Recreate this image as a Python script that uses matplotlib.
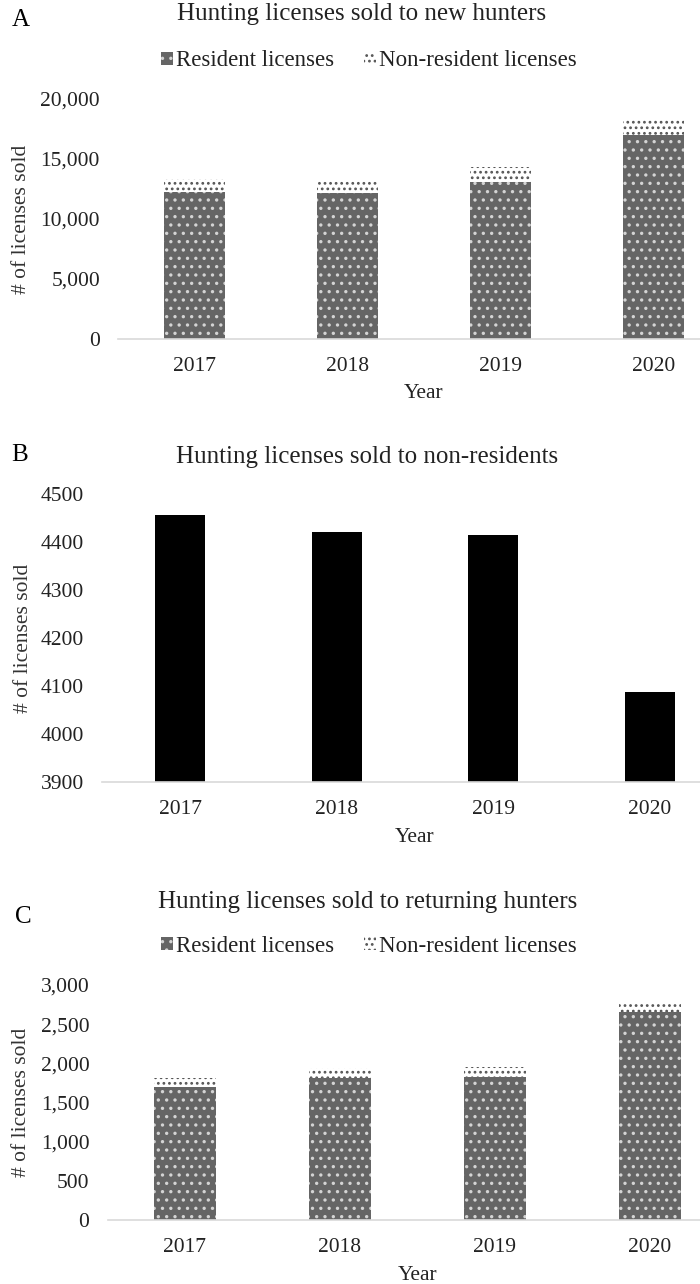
import numpy as np
import matplotlib
matplotlib.use("Agg")
from matplotlib import pyplot as plt
from matplotlib.patches import Patch
from matplotlib.ticker import FuncFormatter
from matplotlib.transforms import blended_transform_factory

plt.rcParams['font.family'] = ['Liberation Serif', 'DejaVu Serif']
plt.rcParams['hatch.linewidth'] = 1.2

years = ["2017", "2018", "2019", "2020"]

# panel A - new hunters
new_resident = [12250, 12200, 13100, 17000]
new_nonresident = [1050, 1000, 1250, 1300]

# panel B - non-residents
nonres_total = [4457, 4420, 4414, 4087]

# panel C - returning hunters
ret_resident = [1695, 1815, 1822, 2657]
ret_nonresident = [120, 126, 127, 127]

W, H = 700, 1284
fig = plt.figure(figsize=(W / 100, H / 100), dpi=100)

RES_STYLE = dict(facecolor='#656565', edgecolor='#d4d4d4', hatch='..', linewidth=0)
NON_STYLE = dict(facecolor='white', edgecolor='#555555', hatch='...', linewidth=0)


def px_axes(left, top, right, bottom):
    return fig.add_axes([left / W, 1 - bottom / H, (right - left) / W, (bottom - top) / H])


def style_axes(ax, ymin, ymax, yticks, fmt, ylab_x, xlab_y):
    ax.set_xlim(-0.5, 3.5)
    ax.set_ylim(ymin, ymax)
    ax.set_yticks(yticks)
    ax.yaxis.set_major_formatter(FuncFormatter(fmt))
    ax.set_xticks(range(len(years)))
    ax.set_xticklabels(years)
    for s in ['top', 'right', 'left']:
        ax.spines[s].set_visible(False)
    ax.spines['bottom'].set_color('#d9d9d9')
    ax.spines['bottom'].set_linewidth(1.2)
    ax.tick_params(axis='both', length=0, labelsize=15.5, colors='#222222')
    ax.tick_params(axis='x', pad=13)
    ax.tick_params(axis='y', pad=13)
    ax.set_ylabel("# of licenses sold", fontsize=15.5, color='#333333', va='center')
    ax.yaxis.set_label_coords(ylab_x / W, 0.5,
                              transform=blended_transform_factory(fig.transFigure, ax.transAxes))
    ax.set_xlabel("Year", fontsize=15.5, color='#222222', va='center')
    ax.xaxis.set_label_coords(0.5, 1 - xlab_y / H,
                              transform=blended_transform_factory(ax.transAxes, fig.transFigure))


comma = lambda v, p: f"{int(v):,}"
plain = lambda v, p: f"{int(v)}"
x = np.arange(len(years))

# ---- A
axA = px_axes(118, 99, 730, 339)
axA.bar(x, new_resident, width=0.4, **RES_STYLE)
axA.bar(x, new_nonresident, width=0.4, bottom=new_resident, **NON_STYLE)
style_axes(axA, 0, 20000, np.arange(0, 20001, 5000), comma, 22, 394)

# ---- B
axB = px_axes(102, 494, 728, 782)
axB.bar(x, [v - 3900 for v in nonres_total], width=0.32, bottom=3900, color='black')
style_axes(axB, 3900, 4500, np.arange(3900, 4501, 100), plain, 24, 838)

# ---- C
axC = px_axes(107.5, 985, 727.5, 1220)
axC.bar(x, ret_resident, width=0.4, **RES_STYLE)
axC.bar(x, ret_nonresident, width=0.4, bottom=ret_resident, **NON_STYLE)
style_axes(axC, 0, 3000, np.arange(0, 3001, 500), comma, 22, 1275)

# titles and panel letters
fig.text(362 / W, 1 - 14 / H, "Hunting licenses sold to new hunters", ha='center', va='center', fontsize=18, color='#222222')
fig.text(367 / W, 1 - 457 / H, "Hunting licenses sold to non-residents", ha='center', va='center', fontsize=18, color='#222222')
fig.text(368 / W, 1 - 902 / H, "Hunting licenses sold to returning hunters", ha='center', va='center', fontsize=18, color='#222222')
fig.text(12 / W, 1 - 20 / H, "A", ha='left', va='center', fontsize=18)
fig.text(11 / W, 1 - 455 / H, "B", ha='left', va='center', fontsize=18)
fig.text(15 / W, 1 - 917 / H, "C", ha='left', va='center', fontsize=18)

# legends
handles = [Patch(label="Resident licenses", **RES_STYLE), Patch(label="Non-resident licenses", **NON_STYLE)]
for ly in (61, 946):
    fig.legend(handles=handles, loc='center', bbox_to_anchor=(369 / W, 1 - ly / H), ncol=2,
               frameon=False, fontsize=16.5, handlelength=0.5, handleheight=0.5,
               handletextpad=0.15, columnspacing=1.3, labelcolor='#222222')

fig.savefig("out.png", dpi=100)
